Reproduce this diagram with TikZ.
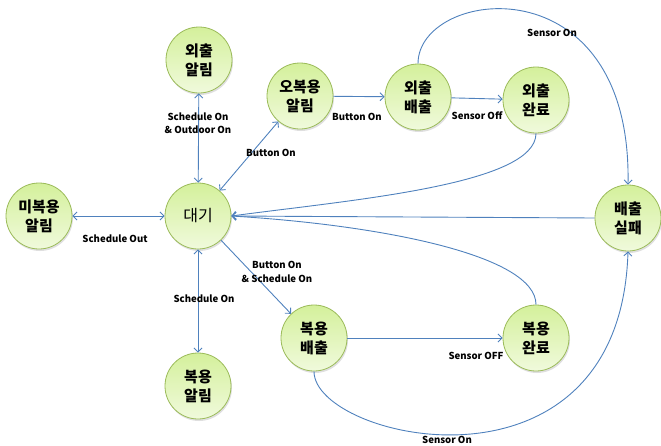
\documentclass[tikz,border=0pt]{standalone}
\usepackage{fontspec}
\setmainfont{Noto Sans CJK KR}
\usetikzlibrary{arrows.meta,shadows}
\definecolor{edgeblue}{RGB}{79,129,189}
\definecolor{nodeborder}{RGB}{155,187,89}
\definecolor{nodetop}{RGB}{212,240,155}
\definecolor{nodebot}{RGB}{240,250,220}
\begin{document}
\begin{tikzpicture}[x=1pt,y=-1pt,
  state/.style={circle, minimum size=66pt, inner sep=0pt, draw=nodeborder, line width=0.8pt,
    top color=nodetop, bottom color=nodebot, align=center,
    font=\fontsize{15}{19}\selectfont\bfseries,
    drop shadow={opacity=0.25,shadow xshift=1pt,shadow yshift=-2pt}},
  conn/.style={draw=edgeblue, line width=0.9pt, -{Straight Barb[length=4pt,width=8pt]}},
  both/.style={conn, {Straight Barb[length=4pt,width=8pt]}-{Straight Barb[length=4pt,width=8pt]}},
  lbl/.style={font=\fontsize{9.6}{13.5}\selectfont\bfseries, align=center, inner sep=0pt}]
\useasboundingbox (0,0) rectangle (661,445);

\node[state] (outA) at (199,60) {외출\\알림};
\node[state] (mis) at (39,216) {미복용\\알림};
\node[state,font=\fontsize{16}{19}\selectfont] (wait) at (198,216) {대기};
\node[state] (takeA) at (198,386) {복용\\알림};
\node[state] (wrong) at (300,96) {오복용\\알림};
\node[state] (outE) at (418,97) {외출\\배출};
\node[state] (outD) at (536,100) {외출\\완료};
\node[state] (fail) at (628,218) {배출\\실패};
\node[state] (takeE) at (314,338) {복용\\배출};
\node[state] (takeD) at (536,338) {복용\\완료};

\draw[both] (outA) -- (wait);
\draw[both] (mis) -- (wait);
\draw[both] (wait) -- (takeA);
\draw[both] (wait) -- (wrong);
\draw[conn] (wrong) -- (outE);
\draw[conn] (outE) -- (outD);
\draw[conn] (outE.north) .. controls (418,-12) and (632,-40) .. (fail.north);
\draw[conn] (outD.south) .. controls (536,185) and (350,200) .. (wait.east);
\draw[conn] (fail.west) -- (wait.east);
\draw[conn] (takeD.north) .. controls (536,255) and (380,225) .. (wait.east);
\draw[conn] (wait) -- (takeE);
\draw[conn] (takeE) -- (takeD);
\draw[conn] (takeE.south) .. controls (314,440) and (620,510) .. (fail.south);

\node[lbl] (l1) at (198,123) {Schedule On\\\& Outdoor On};
\node[lbl] (l2) at (115,239) {Schedule Out};
\node[lbl] (l3) at (204,299) {Schedule On};
\node[lbl] (l4) at (271,153) {Button On};
\node[lbl] (l5) at (277,272) {Button On\\\& Schedule On};
\node[lbl] (l6) at (357,117) {Button On};
\node[lbl] (l7) at (477,116) {Sensor Off};
\node[lbl] (l8) at (552,33) {Sensor On};
\node[lbl] (l9) at (476,356) {Sensor OFF};
\node[lbl] (l10) at (447,440) {Sensor On};
\end{tikzpicture}
\end{document}
